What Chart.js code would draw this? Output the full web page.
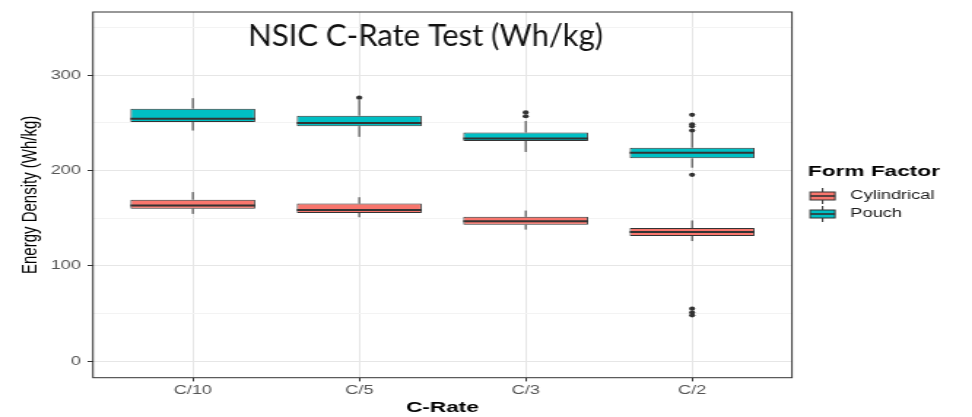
<!DOCTYPE html>
<html>
<head>
<meta charset="utf-8">
<script src="https://cdn.jsdelivr.net/npm/chart.js@4.4.1/dist/chart.umd.min.js"></script>
<style>
  html, body { margin: 0; padding: 0; background: #ffffff; overflow: hidden; }
  /* the plot is laid out on a narrower canvas and widened to the full page */
  #wrap { position: absolute; left: 0; top: 0; width: 666px; height: 417px;
          transform: scaleX(1.4595); transform-origin: 0 0; }
</style>
</head>
<body>
<div id="wrap"><canvas id="chart"></canvas></div>
<script>
// ---- data -------------------------------------------------------------
const categories = ['C/10', 'C/5', 'C/3', 'C/2'];
const seriesNames = ['Cylindrical', 'Pouch'];
const seriesColors = ['#F8766D', '#00BFC4'];

const cylLower    = [154.5, 151.0, 138.0, 126.0];
const cylQ1       = [160.0, 155.5, 143.0, 131.3];
const cylMedian   = [163.2, 158.6, 146.9, 135.4];
const cylQ3       = [169.4, 165.3, 151.4, 139.6];
const cylUpper    = [177.4, 172.0, 158.0, 147.6];
const cylOutliers = [[], [], [], [55, 51, 48]];

const pouchLower    = [242.0, 235.4, 219.5, 203.0];
const pouchQ1       = [251.0, 246.6, 231.0, 212.8];
const pouchMedian   = [254.5, 250.0, 233.6, 218.8];
const pouchQ3       = [265.0, 257.6, 240.0, 224.0];
const pouchUpper    = [276.0, 274.0, 252.0, 240.0];
const pouchOutliers = [[], [276.5], [261, 257], [258.5, 248.5, 246.5, 242, 195.5]];

const yTickValues  = [0, 100, 200, 300];
const yMinorValues = [50, 150, 250, 350];

const chartTitle = 'NSIC C-Rate Test (Wh/kg)';
const xTitle = 'C-Rate';
const yTitle = 'Energy Density (Wh/kg)';
const legendTitle = 'Form Factor';

// ---- helpers ----------------------------------------------------------
const SX = 972 / 666;           // horizontal widening applied by the wrapper
const INK = '#333333';

function boxData(q1, q3) {
  return categories.map((c, i) => ({ x: i + 1, y: [q1[i], q3[i]] }));
}
function outlierData(list) {
  const pts = [];
  list.forEach((vals, i) => vals.forEach(v => pts.push({ x: i + 1, y: v })));
  return pts;
}

// whiskers under the boxes, medians over them
const boxPlotParts = {
  id: 'boxPlotParts',
  beforeDatasetsDraw(chart) {
    const { ctx, scales: { x, y } } = chart;
    ctx.save();
    ctx.strokeStyle = INK;
    ctx.lineWidth = 1;
    chart.data.datasets.forEach(ds => {
      if (!ds.stats) return;
      categories.forEach((c, i) => {
        const px = x.getPixelForValue(i + 1);
        ctx.beginPath();
        ctx.moveTo(px, y.getPixelForValue(ds.stats.q3[i]));
        ctx.lineTo(px, y.getPixelForValue(ds.stats.upper[i]));
        ctx.moveTo(px, y.getPixelForValue(ds.stats.q1[i]));
        ctx.lineTo(px, y.getPixelForValue(ds.stats.lower[i]));
        ctx.stroke();
      });
    });
    ctx.restore();
  },
  afterDatasetDraw(chart, args) {
    const ds = chart.data.datasets[args.index];
    if (!ds.stats) return;
    const { ctx, scales: { y } } = chart;
    const meta = args.meta;
    ctx.save();
    ctx.strokeStyle = INK;
    ctx.lineWidth = 2;
    meta.data.forEach((bar, i) => {
      const py = y.getPixelForValue(ds.stats.median[i]);
      ctx.beginPath();
      ctx.moveTo(bar.x - bar.width / 2, py);
      ctx.lineTo(bar.x + bar.width / 2, py);
      ctx.stroke();
    });
    ctx.restore();
  }
};

// panel frame, heading and the key on the right
const decorations = {
  id: 'decorations',
  afterDraw(chart) {
    const { ctx, chartArea: a } = chart;
    ctx.save();
    ctx.strokeStyle = INK;
    ctx.lineWidth = 1;
    ctx.strokeRect(a.left, a.top, a.right - a.left, a.bottom - a.top);

    // heading, drawn at its natural proportions
    ctx.save();
    ctx.scale(1 / SX, 1);
    ctx.fillStyle = '#111111';
    ctx.font = '31px Lato, "Open Sans", sans-serif';
    ctx.textAlign = 'center';
    ctx.textBaseline = 'alphabetic';
    ctx.fillText(chartTitle, 425.5, 45.7);
    ctx.restore();

    // key
    const lx = a.right + 11;
    ctx.fillStyle = '#000000';
    ctx.textAlign = 'left';
    ctx.textBaseline = 'middle';
    ctx.font = 'bold 15.5px "Liberation Sans", Arial, sans-serif';
    ctx.fillText(legendTitle, lx, 172);
    const rows = [196, 214];
    seriesNames.forEach((name, k) => {
      const cy = rows[k];
      const kw = 20;
      const bx = lx + 1.5, bw = kw - 3;
      const cx = lx + kw / 2;
      ctx.strokeStyle = INK;
      ctx.lineWidth = 1;
      ctx.beginPath();
      ctx.moveTo(cx, cy - 8); ctx.lineTo(cx, cy - 4);
      ctx.moveTo(cx, cy + 4); ctx.lineTo(cx, cy + 8);
      ctx.stroke();
      ctx.fillStyle = seriesColors[k];
      ctx.fillRect(bx, cy - 4, bw, 8);
      ctx.strokeRect(bx, cy - 4, bw, 8);
      ctx.lineWidth = 1.6;
      ctx.beginPath();
      ctx.moveTo(bx, cy); ctx.lineTo(bx + bw, cy);
      ctx.stroke();
      ctx.fillStyle = '#1a1a1a';
      ctx.font = '12.5px "Liberation Sans", Arial, sans-serif';
      ctx.fillText(name, lx + kw + 9, cy);
    });
    ctx.restore();
  }
};

function build() {
  const isMajor = v => yTickValues.includes(v);
  new Chart(document.getElementById('chart'), {
    type: 'bar',
    data: {
      datasets: [
        {
          label: seriesNames[0], data: boxData(cylQ1, cylQ3),
          stats: { lower: cylLower, q1: cylQ1, median: cylMedian, q3: cylQ3, upper: cylUpper },
          backgroundColor: seriesColors[0], borderColor: INK, borderWidth: 1, borderSkipped: false, order: 2
        },
        {
          label: seriesNames[1], data: boxData(pouchQ1, pouchQ3),
          stats: { lower: pouchLower, q1: pouchQ1, median: pouchMedian, q3: pouchQ3, upper: pouchUpper },
          backgroundColor: seriesColors[1], borderColor: INK, borderWidth: 1, borderSkipped: false, order: 2
        },
        {
          type: 'scatter', label: seriesNames[0] + ' outliers', data: outlierData(cylOutliers),
          pointRadius: 2.1, pointBackgroundColor: INK, pointBorderWidth: 0, order: 1
        },
        {
          type: 'scatter', label: seriesNames[1] + ' outliers', data: outlierData(pouchOutliers),
          pointRadius: 2.1, pointBackgroundColor: INK, pointBorderWidth: 0, order: 1
        }
      ]
    },
    options: {
      responsive: true,
      maintainAspectRatio: false,
      animation: false,
      devicePixelRatio: 1,
      layout: { padding: { left: 0, top: 9.5, right: 123.4, bottom: 0 } },
      datasets: { bar: { grouped: false, barPercentage: 0.75, categoryPercentage: 1 } },
      plugins: { legend: { display: false }, tooltip: { enabled: false }, title: { display: false } },
      scales: {
        x: {
          type: 'linear', min: 0.4, max: 4.6, offset: false,
          afterBuildTicks(s) { s.ticks = categories.map((c, i) => ({ value: i + 1 })); },
          afterFit(s) { s.height = 39.3; },
          ticks: {
            callback: v => categories[Math.round(v) - 1] ?? '',
            color: '#555555', font: { family: '"Liberation Sans", Arial, sans-serif', size: 12.5 },
            padding: 1.5, maxRotation: 0, autoSkip: false
          },
          grid: { offset: false, color: '#e6e6e6', lineWidth: 1, tickLength: 3.7, tickColor: INK },
          border: { display: false },
          title: {
            display: true, text: xTitle, color: '#000000',
            font: { family: '"Liberation Sans", Arial, sans-serif', size: 15.5, weight: 'bold' },
            padding: { top: 0, bottom: 0 }
          }
        },
        y: {
          type: 'linear', min: -17.45, max: 366.45,
          afterBuildTicks(s) {
            s.ticks = yTickValues.concat(yMinorValues).sort((a, b) => a - b).map(v => ({ value: v }));
          },
          afterFit(s) { s.width = 63.7; },
          ticks: {
            callback: v => isMajor(v) ? String(v) : '',
            color: '#555555', font: { family: '"Liberation Sans", Arial, sans-serif', size: 12.5 },
            padding: 4.5, autoSkip: false
          },
          grid: {
            color: c => isMajor(c.tick.value) ? '#e6e6e6' : '#f3f3f3',
            lineWidth: 1, tickLength: 3.7,
            tickColor: c => isMajor(c.tick.value) ? INK : 'rgba(0,0,0,0)'
          },
          border: { display: false },
          title: {
            display: true, text: yTitle, color: '#000000',
            font: { family: '"Liberation Sans", Arial, sans-serif', size: 15 },
            padding: { top: 11.5, bottom: 0 }
          }
        }
      }
    },
    plugins: [boxPlotParts, decorations]
  });
}

const fontLoads = ['31px Lato', '15px "Liberation Sans"', 'bold 15px "Liberation Sans"']
  .map(f => document.fonts.load(f).catch(() => null));
Promise.all(fontLoads).then(build, build);
</script>
</body>
</html>
